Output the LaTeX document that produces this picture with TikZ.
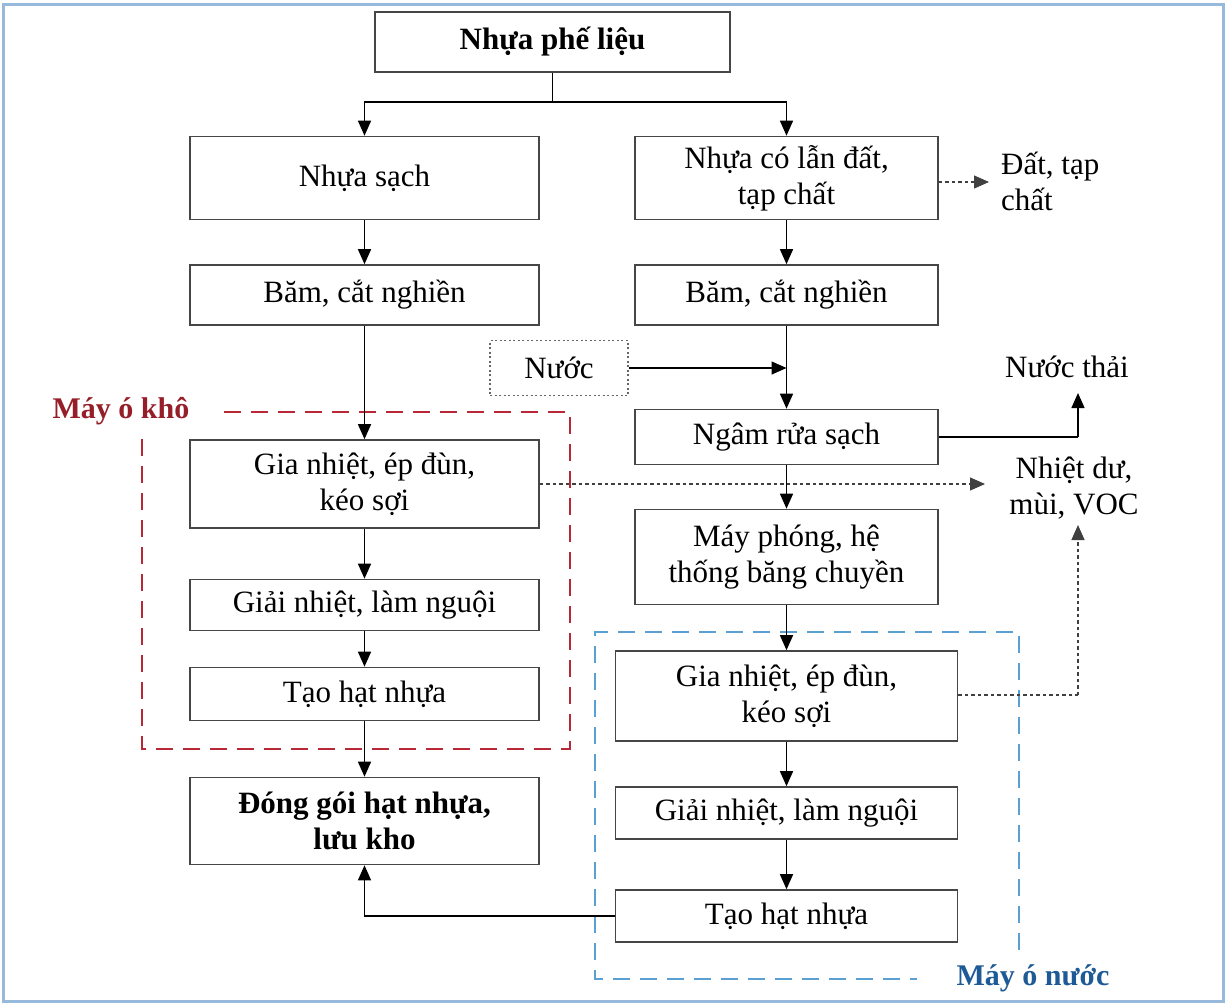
\documentclass[tikz,border=0pt]{standalone}
\usepackage{fontspec}
\setmainfont{Liberation Serif}
\usetikzlibrary{arrows.meta}
\definecolor{boxline}{RGB}{70,70,70}
\definecolor{redbox}{RGB}{185,40,55}
\definecolor{redtxt}{RGB}{150,30,40}
\definecolor{bluebox}{RGB}{90,160,210}
\definecolor{bluetxt}{RGB}{30,90,150}
\definecolor{framec}{RGB}{150,185,220}
\begin{document}
\begin{tikzpicture}[x=1pt,y=-1pt,
  every node/.style={font=\fontsize{31}{36}\selectfont},
  pbox/.style={draw=boxline,line width=1.6pt,rectangle,align=center,inner sep=0pt},
  arr/.style={-{Triangle[length=15pt,width=13pt]},line width=1.4pt,black},
  ln/.style={line width=1.4pt,black},
  dotarr/.style={-{Triangle[length=15pt,width=13pt]},line width=1.3pt,dash pattern=on 3.5pt off 3pt,black!75},
  dotln/.style={line width=1.3pt,dash pattern=on 3.5pt off 3pt,black!75},
]
\useasboundingbox (0,0) rectangle (1227,1005);
\draw[framec,line width=3pt,fill=white] (3,4) rectangle (1223,1001);

% nodes
\node[pbox,minimum width=355pt,minimum height=60pt,font=\fontsize{31}{36}\selectfont\bfseries] (top) at (552.5,42) {Nhựa phế liệu};
\node[pbox,minimum width=349pt,minimum height=83pt] (clean) at (364.5,178) {Nhựa sạch};
\node[pbox,minimum width=303pt,minimum height=83pt] (dirty) at (786.5,178) {Nhựa có lẫn đất,\\tạp chất};
\node[pbox,minimum width=349pt,minimum height=60pt] (bamL) at (364.5,295) {Băm, cắt nghiền};
\node[pbox,minimum width=303pt,minimum height=60pt] (bamR) at (786.5,295) {Băm, cắt nghiền};
\node[pbox,draw=black!60,dash pattern=on 2pt off 2.5pt,line width=1.6pt,minimum width=138pt,minimum height=55pt] (nuoc) at (559,368) {Nước};
\node[pbox,minimum width=303pt,minimum height=55pt] (ngam) at (786.5,437) {Ngâm rửa sạch};
\node[pbox,minimum width=303pt,minimum height=95pt] (mayphong) at (786.5,557) {Máy phóng, hệ\\thống băng chuyền};
\node[pbox,minimum width=349pt,minimum height=88pt] (giaL) at (364.5,484) {Gia nhiệt, ép đùn,\\kéo sợi};
\node[pbox,minimum width=349pt,minimum height=51pt] (giaiL) at (364.5,605) {Giải nhiệt, làm nguội};
\node[pbox,minimum width=349pt,minimum height=53pt] (taoL) at (364.5,694) {Tạo hạt nhựa};
\node[pbox,minimum width=349pt,minimum height=87pt,font=\fontsize{31}{36}\selectfont\bfseries] (donggoi) at (364.5,821) {Đóng gói hạt nhựa,\\lưu kho};
\node[pbox,minimum width=342pt,minimum height=90pt] (giaR) at (786.5,696) {Gia nhiệt, ép đùn,\\kéo sợi};
\node[pbox,minimum width=342pt,minimum height=52pt] (giaiR) at (786.5,813) {Giải nhiệt, làm nguội};
\node[pbox,minimum width=342pt,minimum height=52pt] (taoR) at (786.5,916) {Tạo hạt nhựa};

% free labels
\node[anchor=west,align=left,inner sep=0pt] (dat) at (1001,181) {Đất, tạp\\chất};
\node[inner sep=0pt] (nuocthai) at (1067,367) {Nước thải};
\node[align=center,inner sep=0pt] (nhietdu) at (1074,488) {Nhiệt dư,\\mùi, VOC};
\node[inner sep=0pt,text=redtxt,font=\fontsize{30}{36}\selectfont\bfseries] (maykho) at (121,411) {Máy ó khô};
\node[inner sep=0pt,text=bluetxt,font=\fontsize{30}{36}\selectfont\bfseries] (maynuoc) at (1033,978) {Máy ó nước};

% dashed groups
\draw[redbox,line width=2.4pt,dash pattern=on 17pt off 10pt] (224,412) -- (570,412) -- (570,749) -- (142,749) -- (142,438);
\draw[bluebox,line width=2pt,dash pattern=on 17pt off 10pt] (1019,950) -- (1019,632) -- (595,632) -- (595,979) -- (917,979);

% coordinates
\coordinate (split) at (552.5,102);
\coordinate (wtr) at (1078,437);
\coordinate (wtrtop) at (1078,393);
\coordinate (heatL) at (985,484);
\coordinate (heatR) at (1078,695);
\coordinate (heatRtop) at (1078,525);
\coordinate (datend) at (989,182);

% connectors
\draw[ln] (top.south) -- (split);
\draw[arr] (split) -| (clean.north);
\draw[arr] (split) -| (dirty.north);
\draw[arr] (clean) -- (bamL);
\draw[arr] (dirty) -- (bamR);
\draw[dotarr] (dirty.east |- datend) -- (datend);
\draw[arr] (bamL) -- (giaL);
\draw[arr] (bamR) -- (ngam);
\draw[arr] (nuoc.east) -- (nuoc.east -| bamR.south);
\draw[ln] (ngam.east) -- (wtr);
\draw[arr] (wtr) -- (wtrtop);
\draw[arr] (ngam) -- (mayphong);
\draw[arr] (mayphong) -- (giaR);
\draw[arr] (giaR) -- (giaiR);
\draw[arr] (giaiR) -- (taoR);
\draw[arr] (giaL) -- (giaiL);
\draw[arr] (giaiL) -- (taoL);
\draw[arr] (taoL) -- (donggoi);
\draw[arr] (taoR.west) -| (donggoi.south);
\draw[dotarr] (giaL.east) -- (heatL);
\draw[dotln] (giaR.east |- heatR) -- (heatR);
\draw[dotarr] (heatR) -- (heatRtop);
\end{tikzpicture}
\end{document}
